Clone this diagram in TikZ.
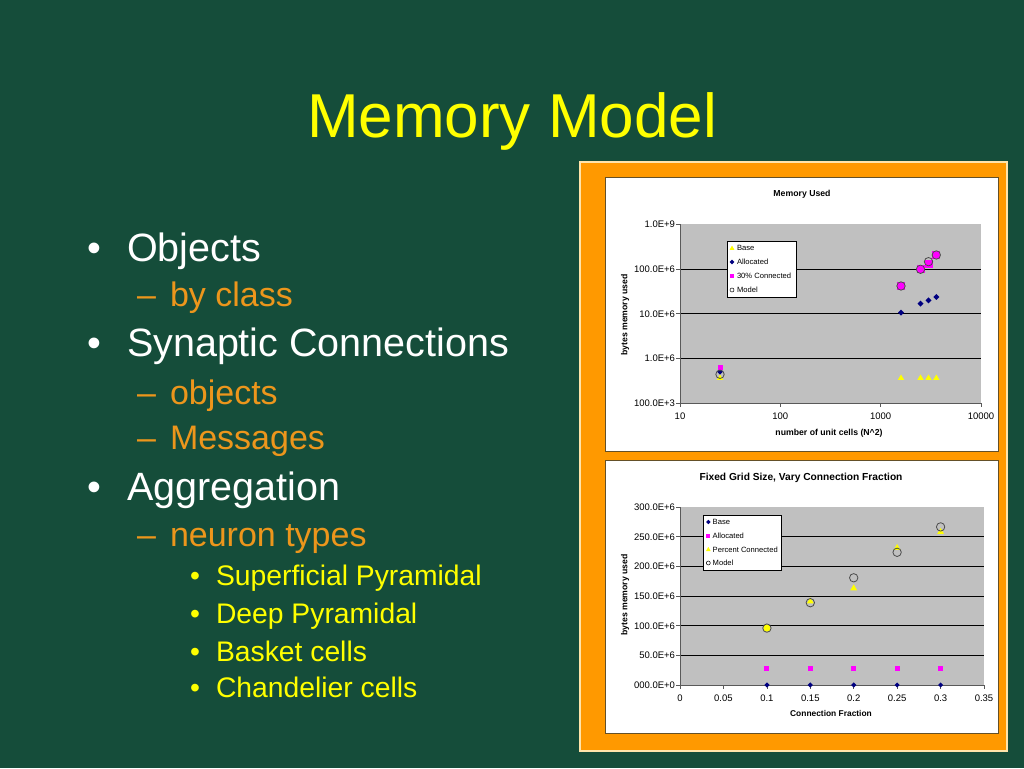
\documentclass[tikz,border=0pt]{standalone}
\usepackage{fontspec}
\setmainfont{Liberation Sans}
\begin{document}
\begin{tikzpicture}[x=1pt,y=1pt,
  slide text/.style={inner sep=0pt, outer sep=0pt, anchor=base west},
  tick label/.style={text=black,inner sep=0pt, outer sep=0pt, font=\fontsize{9.5}{11}\selectfont},
  legend text/.style={text=black,anchor=west,inner sep=0pt, outer sep=0pt, font=\fontsize{7.6}{9}\selectfont},
  axis title/.style={text=black,inner sep=0pt, outer sep=0pt, font=\bfseries\fontsize{8.7}{10}\selectfont}]
\definecolor{fillColor}{RGB}{21,77,58}
\path[use as bounding box,fill=fillColor] (0,0) rectangle (1024,768);

% slide text
\definecolor{titleColor}{RGB}{255,255,0}
\definecolor{subColor}{RGB}{236,150,28}
\node[text=titleColor,inner sep=0pt, outer sep=0pt, anchor=base, font=\fontsize{62}{70}\selectfont] (title) at (512,630) {Memory Model};

\node[text=white,slide text,anchor=base,font=\fontsize{39.5}{44}\selectfont] (dot1) at ( 94,506.3) {\textbullet};
\node[text=white,slide text,font=\fontsize{39.5}{44}\selectfont] (objects) at (127,506.3) {Objects};
\node[text=subColor,slide text,font=\fontsize{34}{38}\selectfont] (dash1) at (137,461) {\textendash};
\node[text=subColor,slide text,font=\fontsize{34}{38}\selectfont] (byclass) at (170,461) {by class};
\node[text=white,slide text,anchor=base,font=\fontsize{39.5}{44}\selectfont] (dot2) at ( 94,411.3) {\textbullet};
\node[text=white,slide text,font=\fontsize{39.5}{44}\selectfont] (synaptic) at (127,411.3) {Synaptic Connections};
\node[text=subColor,slide text,font=\fontsize{34}{38}\selectfont] (dash2) at (137,363) {\textendash};
\node[text=subColor,slide text,font=\fontsize{34}{38}\selectfont] (objs) at (170,363) {objects};
\node[text=subColor,slide text,font=\fontsize{34}{38}\selectfont] (dash3) at (137,318) {\textendash};
\node[text=subColor,slide text,font=\fontsize{34}{38}\selectfont] (messages) at (170,318) {Messages};
\node[text=white,slide text,anchor=base,font=\fontsize{39.5}{44}\selectfont] (dot3) at ( 94,267.3) {\textbullet};
\node[text=white,slide text,font=\fontsize{39.5}{44}\selectfont] (aggregation) at (127,267.3) {Aggregation};
\node[text=subColor,slide text,font=\fontsize{34}{38}\selectfont] (dash4) at (137,221) {\textendash};
\node[text=subColor,slide text,font=\fontsize{34}{38}\selectfont] (neuron) at (170,221) {neuron types};
\node[text=titleColor,slide text,anchor=base,font=\fontsize{28.3}{32}\selectfont] (dot4) at (195,182) {\textbullet};
\node[text=titleColor,slide text,font=\fontsize{28.3}{32}\selectfont] (superficial) at (216,182) {Superficial Pyramidal};
\node[text=titleColor,slide text,anchor=base,font=\fontsize{28.3}{32}\selectfont] (dot5) at (195,144.7) {\textbullet};
\node[text=titleColor,slide text,font=\fontsize{28.3}{32}\selectfont] (deep) at (216,144.7) {Deep Pyramidal};
\node[text=titleColor,slide text,anchor=base,font=\fontsize{28.3}{32}\selectfont] (dot6) at (195,107) {\textbullet};
\node[text=titleColor,slide text,font=\fontsize{28.3}{32}\selectfont] (basket) at (216,107) {Basket cells};
\node[text=titleColor,slide text,anchor=base,font=\fontsize{28.3}{32}\selectfont] (dot7) at (195,70.3) {\textbullet};
\node[text=titleColor,slide text,font=\fontsize{28.3}{32}\selectfont] (chandelier) at (216,70.3) {Chandelier cells};

% orange panel and chart boxes
\definecolor{panelColor}{RGB}{255,153,0}
\definecolor{rimColor}{RGB}{255,228,170}
\definecolor{boxColor}{RGB}{100,80,40}
\path[fill=panelColor,draw=rimColor,line width= 1.2pt] (580,17) rectangle (1007,606);
\path[fill=white,draw=boxColor,line width= 1.0pt] (605,316) rectangle (998,590);
\path[fill=white,draw=boxColor,line width= 1.0pt] (605,35) rectangle (998,307);

\definecolor{plotColor}{RGB}{192,192,192}
\definecolor{axisColor}{gray}{0.35}
\definecolor{navyColor}{RGB}{0,0,128}
\definecolor{magentaColor}{RGB}{255,0,255}
\definecolor{yellowColor}{RGB}{255,255,0}

% Memory Used
\begin{scope}
\path[fill=plotColor] (680,364.7) rectangle (981,543.7);

\path[draw=black,line width= 0.8pt] (680,409.45) -- (981,409.45);

\path[draw=black,line width= 0.8pt] (680,454.2) -- (981,454.2);

\path[draw=black,line width= 0.8pt] (680,498.95) -- (981,498.95);

\path[draw=axisColor,line width= 0.8pt] (680,543.7) -- (680,364.7) -- (981,364.7);

\path[draw=axisColor,line width= 0.8pt] (676,364.7) -- (680,364.7) (676,409.45) -- (680,409.45)
	(676,454.2) -- (680,454.2) (676,498.95) -- (680,498.95) (676,543.7) -- (680,543.7);

\path[draw=axisColor,line width= 0.8pt] (680,364.7) -- (680,360.7) (780.3,364.7) -- (780.3,360.7)
	(880.7,364.7) -- (880.7,360.7) (981,364.7) -- (981,360.7);

\node[tick label,anchor=east] (ya1) at (675,364.7) {100.0E+3};
\node[tick label,anchor=east] (ya2) at (675,409.45) {1.0E+6};
\node[tick label,anchor=east] (ya3) at (675,454.2) {10.0E+6};
\node[tick label,anchor=east] (ya4) at (675,498.95) {100.0E+6};
\node[tick label,anchor=east] (ya5) at (675,543.7) {1.0E+9};

\node[tick label] (xa1) at (680,352) {10};
\node[tick label] (xa2) at (780.3,352) {100};
\node[tick label] (xa3) at (880.7,352) {1000};
\node[tick label] (xa4) at (981,352) {10000};

\node[axis title] (titleA) at (802,574) {Memory Used};
\node[axis title] (xlabelA) at (829,335) {number of unit cells (N\textasciicircum 2)};
\node[axis title,rotate= 90.00] (ylabelA) at (625,453) {bytes memory used};

% Base
\path[fill=yellowColor] (720,390.3) ++(0,3.2) -- ++(3.2,-5.4) -- ++(-6.4,0) -- cycle;
\path[fill=yellowColor] (901,390.3) ++(0,3.2) -- ++(3.2,-5.4) -- ++(-6.4,0) -- cycle;
\path[fill=yellowColor] (920.5,390.3) ++(0,3.2) -- ++(3.2,-5.4) -- ++(-6.4,0) -- cycle;
\path[fill=yellowColor] (928.5,390.3) ++(0,3.2) -- ++(3.2,-5.4) -- ++(-6.4,0) -- cycle;
\path[fill=yellowColor] (936.3,390.3) ++(0,3.2) -- ++(3.2,-5.4) -- ++(-6.4,0) -- cycle;
% Allocated
\path[fill=navyColor] (720,396.3) ++(0,3) -- ++(3,-3) -- ++(-3,-3) -- ++(-3,3) -- cycle;
\path[fill=navyColor] (901,455.3) ++(0,3) -- ++(3,-3) -- ++(-3,-3) -- ++(-3,3) -- cycle;
\path[fill=navyColor] (920.5,464.3) ++(0,3) -- ++(3,-3) -- ++(-3,-3) -- ++(-3,3) -- cycle;
\path[fill=navyColor] (928.5,467.7) ++(0,3) -- ++(3,-3) -- ++(-3,-3) -- ++(-3,3) -- cycle;
\path[fill=navyColor] (936.3,471) ++(0,3) -- ++(3,-3) -- ++(-3,-3) -- ++(-3,3) -- cycle;
% 30% Connected
\path[fill=magentaColor] (717.5,397.8) rectangle ++(5,5);
\path[fill=magentaColor] (897,478) rectangle ++(8,8);
\path[fill=magentaColor] (916.5,494.7) rectangle ++(8,8);
\path[fill=magentaColor] (924.5,499.7) rectangle ++(8,8);
\path[fill=magentaColor] (932.3,509) rectangle ++(8,8);
% Model
\path[draw=black!70,line width= 0.8pt] (720,393.7) circle (4.2);
\path[draw=black!70,line width= 0.8pt] (901,482) circle (4.2);
\path[draw=black!70,line width= 0.8pt] (920.5,498.7) circle (4.2);
\path[draw=black!70,line width= 0.8pt] (928.5,506.3) circle (4.2);
\path[draw=black!70,line width= 0.8pt] (936.3,513) circle (4.2);

% legend
\path[fill=white,draw=black,line width= 0.6pt] (727,471) rectangle (796,527);
\path[fill=yellowColor] (732,520) ++(0,2.4) -- ++(2.4,-4.2) -- ++(-4.8,0) -- cycle;
\path[fill=navyColor] (732,506) ++(0,2.4) -- ++(2.4,-2.4) -- ++(-2.4,-2.4) -- ++(-2.4,2.4) -- cycle;
\path[fill=magentaColor] (730,490) rectangle ++(4,4);
\path[draw=black,line width= 0.5pt] (732,478) circle (2);
\node[legend text] (legA1) at (737,520) {Base};
\node[legend text] (legA2) at (737,506) {Allocated};
\node[legend text] (legA3) at (737,492) {30\% Connected};
\node[legend text] (legA4) at (737,478) {Model};
\end{scope}

% Fixed Grid Size, Vary Connection Fraction
\begin{scope}
\path[fill=plotColor] (680,83) rectangle (984,260.7);

\path[draw=black,line width= 0.8pt] (680,112.6) -- (984,112.6);

\path[draw=black,line width= 0.8pt] (680,142.2) -- (984,142.2);

\path[draw=black,line width= 0.8pt] (680,171.9) -- (984,171.9);

\path[draw=black,line width= 0.8pt] (680,201.5) -- (984,201.5);

\path[draw=black,line width= 0.8pt] (680,231.1) -- (984,231.1);

\path[draw=axisColor,line width= 0.8pt] (680,260.7) -- (680,83) -- (984,83);

\path[draw=axisColor,line width= 0.8pt] (676,83) -- (680,83) (676,112.6) -- (680,112.6)
	(676,142.2) -- (680,142.2) (676,171.9) -- (680,171.9) (676,201.5) -- (680,201.5)
	(676,231.1) -- (680,231.1) (676,260.7) -- (680,260.7);

\path[draw=axisColor,line width= 0.8pt] (680,83) -- (680,79) (723.4,83) -- (723.4,79)
	(766.9,83) -- (766.9,79) (810.3,83) -- (810.3,79) (853.7,83) -- (853.7,79)
	(897.1,83) -- (897.1,79) (940.6,83) -- (940.6,79) (984,83) -- (984,79);

\node[tick label,anchor=east] (yb1) at (675,83) {000.0E+0};
\node[tick label,anchor=east] (yb2) at (675,112.6) {50.0E+6};
\node[tick label,anchor=east] (yb3) at (675,142.2) {100.0E+6};
\node[tick label,anchor=east] (yb4) at (675,171.9) {150.0E+6};
\node[tick label,anchor=east] (yb5) at (675,201.5) {200.0E+6};
\node[tick label,anchor=east] (yb6) at (675,231.1) {250.0E+6};
\node[tick label,anchor=east] (yb7) at (675,260.7) {300.0E+6};

\node[tick label] (xb1) at (680,69.7) {0};
\node[tick label] (xb2) at (723.4,69.7) {0.05};
\node[tick label] (xb3) at (766.9,69.7) {0.1};
\node[tick label] (xb4) at (810.3,69.7) {0.15};
\node[tick label] (xb5) at (853.7,69.7) {0.2};
\node[tick label] (xb6) at (897.1,69.7) {0.25};
\node[tick label] (xb7) at (940.6,69.7) {0.3};
\node[tick label] (xb8) at (984,69.7) {0.35};

\node[axis title,font=\bfseries\fontsize{10.2}{12}\selectfont] (titleB) at (801,290.3) {Fixed Grid Size, Vary Connection Fraction};
\node[axis title,font=\bfseries\fontsize{8.4}{10}\selectfont] (xlabelB) at (831,55) {Connection Fraction};
\node[axis title,rotate= 90.00] (ylabelB) at (625,173) {bytes memory used};

% Base
\path[fill=navyColor] (766.9,83) ++(0,2.6) -- ++(2.6,-2.6) -- ++(-2.6,-2.6) -- ++(-2.6,2.6) -- cycle;
\path[fill=navyColor] (810.3,83) ++(0,2.6) -- ++(2.6,-2.6) -- ++(-2.6,-2.6) -- ++(-2.6,2.6) -- cycle;
\path[fill=navyColor] (853.7,83) ++(0,2.6) -- ++(2.6,-2.6) -- ++(-2.6,-2.6) -- ++(-2.6,2.6) -- cycle;
\path[fill=navyColor] (897.1,83) ++(0,2.6) -- ++(2.6,-2.6) -- ++(-2.6,-2.6) -- ++(-2.6,2.6) -- cycle;
\path[fill=navyColor] (940.6,83) ++(0,2.6) -- ++(2.6,-2.6) -- ++(-2.6,-2.6) -- ++(-2.6,2.6) -- cycle;
% Allocated
\path[fill=magentaColor] (764.4,97.1) rectangle ++(5,5);
\path[fill=magentaColor] (807.8,97.1) rectangle ++(5,5);
\path[fill=magentaColor] (851.2,97.1) rectangle ++(5,5);
\path[fill=magentaColor] (894.6,97.1) rectangle ++(5,5);
\path[fill=magentaColor] (938.1,97.1) rectangle ++(5,5);
% Percent Connected
\path[fill=yellowColor] (766.9,139.9) ++(0,3.6) -- ++(3.4,-6) -- ++(-6.8,0) -- cycle;
\path[fill=yellowColor] (810.3,167.1) ++(0,3.6) -- ++(3.4,-6) -- ++(-6.8,0) -- cycle;
\path[fill=yellowColor] (853.7,180.1) ++(0,3.6) -- ++(3.4,-6) -- ++(-6.8,0) -- cycle;
\path[fill=yellowColor] (897.1,220.4) ++(0,3.6) -- ++(3.4,-6) -- ++(-6.8,0) -- cycle;
\path[fill=yellowColor] (940.6,236.4) ++(0,3.6) -- ++(3.4,-6) -- ++(-6.8,0) -- cycle;
% Model
\path[fill=yellowColor] (766.9,139.9) circle (3.6);
\path[draw=black!70,line width= 0.8pt] (766.9,139.9) circle (4.2);
\path[draw=black!70,line width= 0.8pt] (810.3,165.3) circle (4.2);
\path[draw=black!70,line width= 0.8pt] (853.7,190.2) circle (4.2);
\path[draw=black!70,line width= 0.8pt] (897.1,215.7) circle (4.2);
\path[draw=black!70,line width= 0.8pt] (940.6,241.1) circle (4.2);

% legend
\path[fill=white,draw=black,line width= 0.6pt] (703.3,198) rectangle (781.7,253);
\path[fill=navyColor] (708.3,246) ++(0,2.2) -- ++(2.2,-2.2) -- ++(-2.2,-2.2) -- ++(-2.2,2.2) -- cycle;
\path[fill=magentaColor] (706.3,230.3) rectangle ++(4,4);
\path[fill=yellowColor] (708.3,218.7) ++(0,2.4) -- ++(2.4,-4.2) -- ++(-4.8,0) -- cycle;
\path[draw=black,line width= 0.5pt] (708.3,205) circle (2);
\node[legend text] (legB1) at (712.7,246) {Base};
\node[legend text] (legB2) at (712.7,232.3) {Allocated};
\node[legend text] (legB3) at (712.7,218.7) {Percent Connected};
\node[legend text] (legB4) at (712.7,205) {Model};
\end{scope}
\end{tikzpicture}
\end{document}
